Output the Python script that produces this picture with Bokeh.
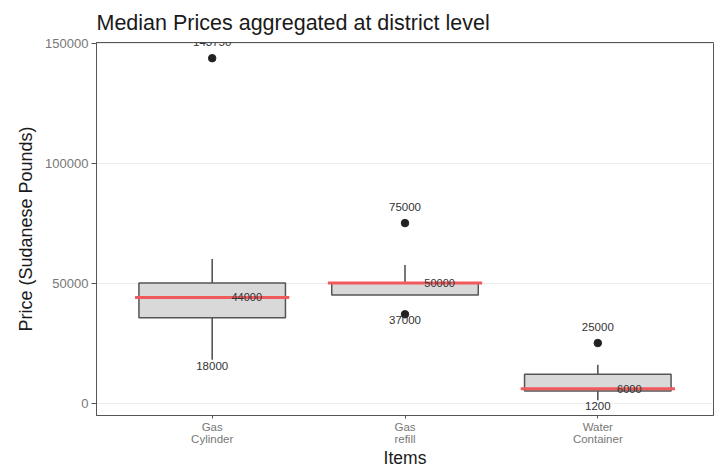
from bokeh.plotting import figure
from bokeh.models import Range1d, FixedTicker, NumeralTickFormatter, ColumnDataSource
from bokeh.core.properties import value
from bokeh.embed import file_html
from bokeh.resources import INLINE

# Items and box statistics (Sudanese Pounds)
items = ["Gas\nCylinder", "Gas\nrefill", "Water\nContainer"]
positions = [1, 2, 3]
q1 = [35500, 45000, 5000]
q3 = [50000, 50000, 12000]
median = [44000, 50000, 6000]
whisker_lo = [18000, 45000, 1200]
whisker_hi = [60000, 57500, 16000]

# Outlying district prices
outlier_pos = [1, 2, 2, 3]
outlier_val = [143750, 75000, 37000, 25000]

# Extreme values printed beside each box
max_val = [143750, 75000, 25000]
min_val = [18000, 37000, 1200]

y_ticks = [0, 50000, 100000, 150000]

FONT = "Liberation Sans"
BOX_HALF = 0.38
MED_HALF = 0.40

p = figure(width=720, height=470, output_backend="svg", toolbar_location=None,
           x_range=Range1d(0.4, 3.6), y_range=Range1d(-5200, 150300),
           min_border_left=96, min_border_right=7, min_border_top=41, min_border_bottom=53)

p.title.text = "Median Prices aggregated at district level"
p.title.text_font = FONT
p.title.text_font_size = "21.5px"
p.title.text_font_style = "normal"
p.title.text_color = "#1a1a1a"
p.title.standoff = 16

p.background_fill_color = "white"
p.border_fill_color = "white"
p.outline_line_color = "#555555"
p.outline_line_width = 1

p.xgrid.visible = False
p.ygrid.grid_line_color = "#ececec"
p.ygrid.grid_line_width = 1
p.ygrid.ticker = FixedTicker(ticks=y_ticks)

for ax in (p.xaxis[0], p.yaxis[0]):
    ax.axis_line_color = "#555555"
    ax.major_tick_line_color = "#555555"
    ax.minor_tick_line_color = None
    ax.major_tick_in = 0
    ax.major_tick_out = 5
    ax.major_label_text_font = FONT
    ax.major_label_text_color = "#777777"
    ax.axis_label_text_font = FONT
    ax.axis_label_text_font_style = "normal"
    ax.axis_label_text_color = "#1a1a1a"
    ax.axis_label_text_font_size = "18px"

p.xaxis.ticker = FixedTicker(ticks=positions)
p.xaxis.major_label_overrides = {pos: lab for pos, lab in zip(positions, items)}
p.xaxis.major_label_text_font_size = "11.5px"
p.xaxis.major_label_text_line_height = 1.0
p.xaxis.major_label_standoff = 2
p.xaxis.major_tick_out = 3
p.xaxis.axis_label = "Items"
p.xaxis.axis_label_text_font_size = "17.5px"
p.xaxis.axis_label_standoff = 0

p.yaxis.ticker = FixedTicker(ticks=y_ticks)
p.yaxis.formatter = NumeralTickFormatter(format="0")
p.yaxis.major_label_text_font_size = "13px"
p.yaxis.major_label_standoff = 3
p.yaxis.axis_label = "Price (Sudanese Pounds)"
p.yaxis.axis_label_standoff = 6

boxes = ColumnDataSource(dict(
    x=positions,
    left=[x - BOX_HALF for x in positions],
    right=[x + BOX_HALF for x in positions],
    mleft=[x - MED_HALF for x in positions],
    mright=[x + MED_HALF for x in positions],
    q1=q1, q3=q3, med=median, lo=whisker_lo, hi=whisker_hi,
    lab=[str(m) for m in median],
    labx=[x + 0.1 for x in positions],
))

# whiskers
p.segment(x0="x", y0="q3", x1="x", y1="hi", source=boxes, line_color="#555555", line_width=1.6)
p.segment(x0="x", y0="q1", x1="x", y1="lo", source=boxes, line_color="#555555", line_width=1.6)

# boxes
p.quad(left="left", right="right", bottom="q1", top="q3", source=boxes,
       fill_color="#d9d9d9", line_color="#555555", line_width=1.5)

# median markers
p.segment(x0="mleft", y0="med", x1="mright", y1="med", source=boxes,
          line_color="#f05a5c", line_width=3)

# outliers
p.scatter(x=outlier_pos, y=outlier_val, size=7.5, fill_color="#222222", line_color="#222222")

# median value labels
p.text(x="labx", y="med", text="lab", source=boxes, text_font=value(FONT),
       text_font_size="11px", text_color="#333333", text_align="left", text_baseline="middle")

# extreme value labels
p.text(x=positions, y=max_val, text=[str(v) for v in max_val], text_font=value(FONT),
       text_font_size="11.5px", text_color="#333333", text_align="center",
       text_baseline="bottom", y_offset=-12)
p.text(x=positions, y=min_val, text=[str(v) for v in min_val], text_font=value(FONT),
       text_font_size="11.5px", text_color="#333333", text_align="center",
       text_baseline="top", y_offset=2)

open("out.html", "w").write(file_html(p, INLINE))
